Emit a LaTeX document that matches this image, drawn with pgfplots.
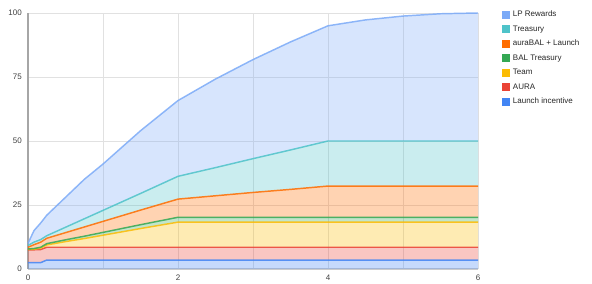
\documentclass[border=0pt]{standalone}
\usepackage{fontspec}
\setmainfont{Liberation Sans}
\usepackage{pgfplots}
\usepackage{pgfplotstable}
\pgfplotsset{compat=1.18}
\definecolor{lpc}{RGB}{123,170,247}
\definecolor{tealc}{RGB}{78,195,201}
\definecolor{orc}{RGB}{255,109,0}
\definecolor{grc}{RGB}{52,168,83}
\definecolor{yec}{RGB}{251,188,4}
\definecolor{rec}{RGB}{234,67,53}
\definecolor{blc}{RGB}{66,133,244}
\definecolor{gridc}{RGB}{225,225,225}
% share of each category (stacked areas)
\pgfplotstableread{
x     blue red yellow green orange teal lp
0     2.5  5.0 0.1    0.2   0.7    0.7  0.8
0.08  2.5  5.0 0.2    0.3   1.5    1.0  4.5
0.17  2.5  5.1 0.6    0.3   2.0    1.0  6.5
0.25  3.5  5.0 0.9    0.5   2.1    1.0  8.0
0.5   3.5  5.0 2.2    0.7   2.8    2.1  11.7
0.75  3.5  5.0 3.4    0.9   3.6    3.2  15.4
1     3.5  5.0 4.7    1.1   4.3    4.3  18.1
1.5   3.5  5.0 7.3    1.5   5.7    6.5  24.5
2     3.5  5.0 9.8    1.9   7.1    8.9  29.6
2.5   3.5  5.0 9.8    1.9   8.4    11.0 34.6
3     3.5  5.0 9.8    1.9   9.7    13.2 38.7
3.5   3.5  5.0 9.8    1.9   10.9   15.4 42.2
4     3.5  5.0 9.8    1.9   12.2   17.6 45.0
4.5   3.5  5.0 9.8    1.9   12.2   17.6 47.3
5     3.5  5.0 9.8    1.9   12.2   17.6 48.8
5.5   3.5  5.0 9.8    1.9   12.2   17.6 49.7
6     3.5  5.0 9.8    1.9   12.2   17.6 50.0
}\inc
% cumulative (stacked top) values
\pgfplotstableread{
x     blue red yellow green orange teal lp
0     2.5  7.5 7.6    7.8   8.5    9.2  10
0.08  2.5  7.5 7.7    8.0   9.5    10.5 15
0.17  2.5  7.6 8.2    8.5   10.5   11.5 18
0.25  3.5  8.5 9.4    9.9   12.0   13.0 21
0.5   3.5  8.5 10.7   11.4  14.2   16.3 28
0.75  3.5  8.5 11.9   12.8  16.4   19.6 35
1     3.5  8.5 13.2   14.3  18.6   22.9 41
1.5   3.5  8.5 15.8   17.3  23.0   29.5 54
2     3.5  8.5 18.3   20.2  27.3   36.2 65.8
2.5   3.5  8.5 18.3   20.2  28.6   39.6 74.2
3     3.5  8.5 18.3   20.2  29.9   43.1 81.8
3.5   3.5  8.5 18.3   20.2  31.1   46.5 88.7
4     3.5  8.5 18.3   20.2  32.4   50.0 95.0
4.5   3.5  8.5 18.3   20.2  32.4   50.0 97.3
5     3.5  8.5 18.3   20.2  32.4   50.0 98.8
5.5   3.5  8.5 18.3   20.2  32.4   50.0 99.7
6     3.5  8.5 18.3   20.2  32.4   50.0 100
}\cum
\pgfplotsset{
  common/.style={scale only axis, width=337.5pt, height=192pt,
    xmin=0, xmax=6, ymin=0, ymax=100},
  sq/.style={legend image code/.code={\fill[#1, draw=none, fill opacity=1] (0pt,-3pt) rectangle (6pt,3pt);}},
}
\begin{document}
\begin{tikzpicture}
\useasboundingbox (-21pt,-11.25pt) rectangle (423pt,201.75pt);
\begin{axis}[
  common,
  stack plots=y,
  axis x line=bottom, axis y line=left,
  axis line style={draw=gray!70, line width=1pt, -},
  x axis line style={draw=gray!40},
  xtick={0,2,4,6}, minor xtick={1,3,5},
  ytick={0,25,50,75,100},
  grid=both, major grid style={gridc, line width=0.6pt}, minor grid style={gridc, line width=0.6pt},
  tick style={draw=none},
  tick label style={font=\fontsize{6}{7}\selectfont, text=black!75},
  /pgf/number format/assume math mode=true,
  yticklabel style={xshift=1pt},
  xticklabel style={yshift=1pt},
  reverse legend,
  legend style={draw=none, fill=none, at={(1.0444,1.020)}, anchor=north west,
    font=\fontsize{6}{7}\selectfont, text=black!85, row sep=4.9pt,
    nodes={inner xsep=2pt, inner ysep=0pt}},
  legend cell align=left,
]
\addplot[draw=none, fill=blc, fill opacity=0.3, sq=blc] table[x=x,y=blue]{\inc} \closedcycle;
\addlegendentry{Launch incentive}
\addplot[draw=none, fill=rec, fill opacity=0.3, sq=rec] table[x=x,y=red]{\inc} \closedcycle;
\addlegendentry{AURA}
\addplot[draw=none, fill=yec, fill opacity=0.3, sq=yec] table[x=x,y=yellow]{\inc} \closedcycle;
\addlegendentry{Team}
\addplot[draw=none, fill=grc, fill opacity=0.3, sq=grc] table[x=x,y=green]{\inc} \closedcycle;
\addlegendentry{BAL Treasury}
\addplot[draw=none, fill=orc, fill opacity=0.3, sq=orc] table[x=x,y=orange]{\inc} \closedcycle;
\addlegendentry{auraBAL + Launch}
\addplot[draw=none, fill=tealc, fill opacity=0.3, sq=tealc] table[x=x,y=teal]{\inc} \closedcycle;
\addlegendentry{Treasury}
\addplot[draw=none, fill=lpc, fill opacity=0.3, sq=lpc] table[x=x,y=lp]{\inc} \closedcycle;
\addlegendentry{LP Rewards}
\end{axis}
\begin{axis}[
  common, axis lines=none, ticks=none, clip=false,
  every axis plot/.append style={line width=1.1pt, draw opacity=0.85},
]
\addplot[draw=blc] table[x=x,y=blue]{\cum};
\addplot[draw=rec] table[x=x,y=red]{\cum};
\addplot[draw=yec] table[x=x,y=yellow]{\cum};
\addplot[draw=grc] table[x=x,y=green]{\cum};
\addplot[draw=orc] table[x=x,y=orange]{\cum};
\addplot[draw=tealc] table[x=x,y=teal]{\cum};
\addplot[draw=lpc] table[x=x,y=lp]{\cum};
\end{axis}
\end{tikzpicture}
\end{document}
